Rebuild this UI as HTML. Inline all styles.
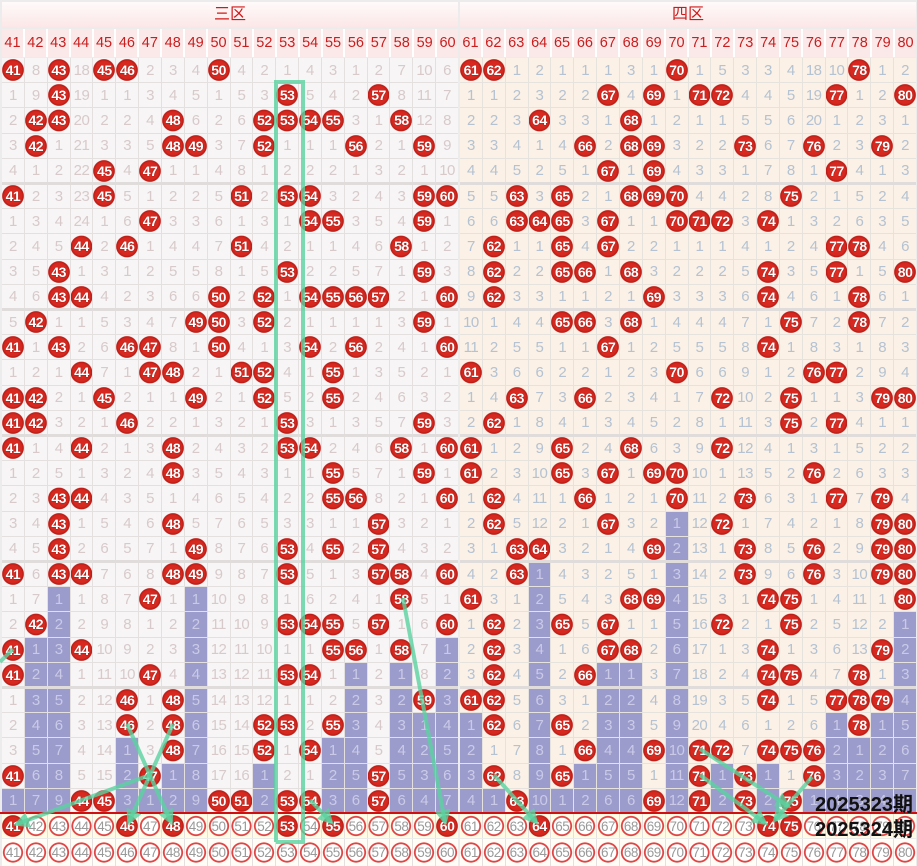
<!DOCTYPE html>
<html><head><meta charset="utf-8">
<style>
*{margin:0;padding:0;box-sizing:border-box}
body{width:917px;height:866px;overflow:hidden;background:#ececec;position:relative;font-family:"Liberation Sans","Noto Sans CJK SC",sans-serif}
.sec{position:absolute;top:0;width:456px;height:866px}
.h1{position:absolute;left:0;top:2px;width:456px;height:26px;background:linear-gradient(#fffafa,#fbe6e6);color:#d01818;font-size:16px;text-align:center;line-height:26px}
.h2{position:absolute;left:0;top:29px;width:456px;height:28px;display:grid;grid-template-columns:repeat(20,1fr);gap:2px;background:#fff}
.h2 span{background:#fbe9e9;color:#c81e1e;font-size:14.5px;display:flex;align-items:center;justify-content:center}
.g{position:absolute;left:0;width:456px;display:grid;grid-template-columns:repeat(20,1fr);gap:1px;background:#e4e0e0}
.d{top:58px;height:755px;grid-template-rows:repeat(30,1fr)}
.g>*{display:flex;align-items:center;justify-content:center;font-style:normal;text-decoration:none;font-weight:normal;font-size:15px;background:var(--bg);color:var(--fg);letter-spacing:-.5px}
.L{--bg:#f7f5f6;--fg:#d8caca}
.R{--bg:#fbf1e6;--fg:#b4c2d2}
.g>b{background:radial-gradient(circle,#de2c22 0,#d6281f 8.5px,#b81c16 10.5px,rgba(0,0,0,0) 11.2px),var(--bg);color:#fff;font-weight:bold;font-size:14px;text-shadow:0 0 1px #600}
.g>u{background:#9c9ccc;color:#cacae8}
.b1{top:814px;height:24px;--bg:#fffbe4;--fg:#aaa}
.b2{top:839px;height:27px;--bg:#fffdf6;--fg:#aaa}
.b1>o,.b2>o{background:radial-gradient(circle,#fff 0,#fff 8px,#e04444 8.6px,#e04444 9.8px,rgba(0,0,0,0) 10.4px),var(--bg);font-size:13.5px;color:#9a9a9a;display:flex;align-items:center;justify-content:center}
.sep{position:absolute;height:3px;background:#e0dcdc;width:456px;left:0}
</style></head><body>

<div class="sec L" style="left:2px">
<div class="h1">三区</div>
<div class="h2"><span>41</span><span>42</span><span>43</span><span>44</span><span>45</span><span>46</span><span>47</span><span>48</span><span>49</span><span>50</span><span>51</span><span>52</span><span>53</span><span>54</span><span>55</span><span>56</span><span>57</span><span>58</span><span>59</span><span>60</span></div>
<div class="g d">
<b>41</b><i>8</i><b>43</b><i>18</i><b>45</b><b>46</b><i>2</i><i>3</i><i>4</i><b>50</b><i>4</i><i>2</i><i>1</i><i>4</i><i>3</i><i>1</i><i>2</i><i>7</i><i>10</i><i>6</i>
<i>1</i><i>9</i><b>43</b><i>19</i><i>1</i><i>1</i><i>3</i><i>4</i><i>5</i><i>1</i><i>5</i><i>3</i><b>53</b><i>5</i><i>4</i><i>2</i><b>57</b><i>8</i><i>11</i><i>7</i>
<i>2</i><b>42</b><b>43</b><i>20</i><i>2</i><i>2</i><i>4</i><b>48</b><i>6</i><i>2</i><i>6</i><b>52</b><b>53</b><b>54</b><b>55</b><i>3</i><i>1</i><b>58</b><i>12</i><i>8</i>
<i>3</i><b>42</b><i>1</i><i>21</i><i>3</i><i>3</i><i>5</i><b>48</b><b>49</b><i>3</i><i>7</i><b>52</b><i>1</i><i>1</i><i>1</i><b>56</b><i>2</i><i>1</i><b>59</b><i>9</i>
<i>4</i><i>1</i><i>2</i><i>22</i><b>45</b><i>4</i><b>47</b><i>1</i><i>1</i><i>4</i><i>8</i><i>1</i><i>2</i><i>2</i><i>2</i><i>1</i><i>3</i><i>2</i><i>1</i><i>10</i>
<b>41</b><i>2</i><i>3</i><i>23</i><b>45</b><i>5</i><i>1</i><i>2</i><i>2</i><i>5</i><b>51</b><i>2</i><b>53</b><b>54</b><i>3</i><i>2</i><i>4</i><i>3</i><b>59</b><b>60</b>
<i>1</i><i>3</i><i>4</i><i>24</i><i>1</i><i>6</i><b>47</b><i>3</i><i>3</i><i>6</i><i>1</i><i>3</i><i>1</i><b>54</b><b>55</b><i>3</i><i>5</i><i>4</i><b>59</b><i>1</i>
<i>2</i><i>4</i><i>5</i><b>44</b><i>2</i><b>46</b><i>1</i><i>4</i><i>4</i><i>7</i><b>51</b><i>4</i><i>2</i><i>1</i><i>1</i><i>4</i><i>6</i><b>58</b><i>1</i><i>2</i>
<i>3</i><i>5</i><b>43</b><i>1</i><i>3</i><i>1</i><i>2</i><i>5</i><i>5</i><i>8</i><i>1</i><i>5</i><b>53</b><i>2</i><i>2</i><i>5</i><i>7</i><i>1</i><b>59</b><i>3</i>
<i>4</i><i>6</i><b>43</b><b>44</b><i>4</i><i>2</i><i>3</i><i>6</i><i>6</i><b>50</b><i>2</i><b>52</b><i>1</i><b>54</b><b>55</b><b>56</b><b>57</b><i>2</i><i>1</i><b>60</b>
<i>5</i><b>42</b><i>1</i><i>1</i><i>5</i><i>3</i><i>4</i><i>7</i><b>49</b><b>50</b><i>3</i><b>52</b><i>2</i><i>1</i><i>1</i><i>1</i><i>1</i><i>3</i><b>59</b><i>1</i>
<b>41</b><i>1</i><b>43</b><i>2</i><i>6</i><b>46</b><b>47</b><i>8</i><i>1</i><b>50</b><i>4</i><i>1</i><i>3</i><b>54</b><i>2</i><b>56</b><i>2</i><i>4</i><i>1</i><b>60</b>
<i>1</i><i>2</i><i>1</i><b>44</b><i>7</i><i>1</i><b>47</b><b>48</b><i>2</i><i>1</i><b>51</b><b>52</b><i>4</i><i>1</i><b>55</b><i>1</i><i>3</i><i>5</i><i>2</i><i>1</i>
<b>41</b><b>42</b><i>2</i><i>1</i><b>45</b><i>2</i><i>1</i><i>1</i><b>49</b><i>2</i><i>1</i><b>52</b><i>5</i><i>2</i><b>55</b><i>2</i><i>4</i><i>6</i><i>3</i><i>2</i>
<b>41</b><b>42</b><i>3</i><i>2</i><i>1</i><b>46</b><i>2</i><i>2</i><i>1</i><i>3</i><i>2</i><i>1</i><b>53</b><i>3</i><i>1</i><i>3</i><i>5</i><i>7</i><b>59</b><i>3</i>
<b>41</b><i>1</i><i>4</i><b>44</b><i>2</i><i>1</i><i>3</i><b>48</b><i>2</i><i>4</i><i>3</i><i>2</i><b>53</b><b>54</b><i>2</i><i>4</i><i>6</i><b>58</b><i>1</i><b>60</b>
<i>1</i><i>2</i><i>5</i><i>1</i><i>3</i><i>2</i><i>4</i><b>48</b><i>3</i><i>5</i><i>4</i><i>3</i><i>1</i><i>1</i><b>55</b><i>5</i><i>7</i><i>1</i><b>59</b><i>1</i>
<i>2</i><i>3</i><b>43</b><b>44</b><i>4</i><i>3</i><i>5</i><i>1</i><i>4</i><i>6</i><i>5</i><i>4</i><i>2</i><i>2</i><b>55</b><b>56</b><i>8</i><i>2</i><i>1</i><b>60</b>
<i>3</i><i>4</i><b>43</b><i>1</i><i>5</i><i>4</i><i>6</i><b>48</b><i>5</i><i>7</i><i>6</i><i>5</i><i>3</i><i>3</i><i>1</i><i>1</i><b>57</b><i>3</i><i>2</i><i>1</i>
<i>4</i><i>5</i><b>43</b><i>2</i><i>6</i><i>5</i><i>7</i><i>1</i><b>49</b><i>8</i><i>7</i><i>6</i><b>53</b><i>4</i><b>55</b><i>2</i><b>57</b><i>4</i><i>3</i><i>2</i>
<b>41</b><i>6</i><b>43</b><b>44</b><i>7</i><i>6</i><i>8</i><b>48</b><b>49</b><i>9</i><i>8</i><i>7</i><b>53</b><i>5</i><i>1</i><i>3</i><b>57</b><b>58</b><i>4</i><b>60</b>
<i>1</i><i>7</i><u>1</u><i>1</i><i>8</i><i>7</i><b>47</b><i>1</i><u>1</u><i>10</i><i>9</i><i>8</i><i>1</i><i>6</i><i>2</i><i>4</i><i>1</i><b>58</b><i>5</i><i>1</i>
<i>2</i><b>42</b><u>2</u><i>2</i><i>9</i><i>8</i><i>1</i><i>2</i><u>2</u><i>11</i><i>10</i><i>9</i><b>53</b><b>54</b><b>55</b><i>5</i><b>57</b><i>1</i><i>6</i><b>60</b>
<b>41</b><u>1</u><u>3</u><b>44</b><i>10</i><i>9</i><i>2</i><i>3</i><u>3</u><i>12</i><i>11</i><i>10</i><i>1</i><i>1</i><b>55</b><b>56</b><i>1</i><b>58</b><i>7</i><u>1</u>
<b>41</b><u>2</u><u>4</u><i>1</i><i>11</i><i>10</i><b>47</b><i>4</i><u>4</u><i>13</i><i>12</i><i>11</i><b>53</b><b>54</b><i>1</i><u>1</u><i>2</i><u>1</u><i>8</i><u>2</u>
<i>1</i><u>3</u><u>5</u><i>2</i><i>12</i><b>46</b><i>1</i><b>48</b><u>5</u><i>14</i><i>13</i><i>12</i><i>1</i><i>1</i><i>2</i><u>2</u><i>3</i><u>2</u><b>59</b><u>3</u>
<i>2</i><u>4</u><u>6</u><i>3</i><i>13</i><b>46</b><i>2</i><b>48</b><u>6</u><i>15</i><i>14</i><b>52</b><b>53</b><i>2</i><b>55</b><u>3</u><i>4</i><u>3</u><u>1</u><u>4</u>
<i>3</i><u>5</u><u>7</u><i>4</i><i>14</i><u>1</u><i>3</i><b>48</b><u>7</u><i>16</i><i>15</i><b>52</b><i>1</i><b>54</b><u>1</u><u>4</u><i>5</i><u>4</u><u>2</u><u>5</u>
<b>41</b><u>6</u><u>8</u><i>5</i><i>15</i><u>2</u><b>47</b><u>1</u><u>8</u><i>17</i><i>16</i><u>1</u><i>2</i><i>1</i><u>2</u><u>5</u><b>57</b><u>5</u><u>3</u><u>6</u>
<u>1</u><u>7</u><u>9</u><b>44</b><b>45</b><u>3</u><u>1</u><u>2</u><u>9</u><b>50</b><b>51</b><u>2</u><b>53</b><b>54</b><u>3</u><u>6</u><b>57</b><u>6</u><u>4</u><u>7</u>
</div>
<div class="sep" style="top:182px"></div><div class="sep" style="top:308px"></div><div class="sep" style="top:434px"></div><div class="sep" style="top:560px"></div><div class="sep" style="top:686px"></div>
<div class="g b1"><b>41</b><o>42</o><o>43</o><o>44</o><o>45</o><b>46</b><o>47</o><b>48</b><o>49</o><o>50</o><o>51</o><o>52</o><b>53</b><o>54</o><b>55</b><o>56</o><o>57</o><o>58</o><o>59</o><b>60</b></div>
<div class="g b2"><o>41</o><o>42</o><o>43</o><o>44</o><o>45</o><o>46</o><o>47</o><o>48</o><o>49</o><o>50</o><o>51</o><o>52</o><o>53</o><o>54</o><o>55</o><o>56</o><o>57</o><o>58</o><o>59</o><o>60</o></div>
</div>

<div class="sec R" style="left:460px">
<div class="h1">四区</div>
<div class="h2"><span>61</span><span>62</span><span>63</span><span>64</span><span>65</span><span>66</span><span>67</span><span>68</span><span>69</span><span>70</span><span>71</span><span>72</span><span>73</span><span>74</span><span>75</span><span>76</span><span>77</span><span>78</span><span>79</span><span>80</span></div>
<div class="g d" style="background:#e6e2de">
<b>61</b><b>62</b><i>1</i><i>2</i><i>1</i><i>1</i><i>1</i><i>3</i><i>1</i><b>70</b><i>1</i><i>5</i><i>3</i><i>3</i><i>4</i><i>18</i><i>10</i><b>78</b><i>1</i><i>2</i>
<i>1</i><i>1</i><i>2</i><i>3</i><i>2</i><i>2</i><b>67</b><i>4</i><b>69</b><i>1</i><b>71</b><b>72</b><i>4</i><i>4</i><i>5</i><i>19</i><b>77</b><i>1</i><i>2</i><b>80</b>
<i>2</i><i>2</i><i>3</i><b>64</b><i>3</i><i>3</i><i>1</i><b>68</b><i>1</i><i>2</i><i>1</i><i>1</i><i>5</i><i>5</i><i>6</i><i>20</i><i>1</i><i>2</i><i>3</i><i>1</i>
<i>3</i><i>3</i><i>4</i><i>1</i><i>4</i><b>66</b><i>2</i><b>68</b><b>69</b><i>3</i><i>2</i><i>2</i><b>73</b><i>6</i><i>7</i><b>76</b><i>2</i><i>3</i><b>79</b><i>2</i>
<i>4</i><i>4</i><i>5</i><i>2</i><i>5</i><i>1</i><b>67</b><i>1</i><b>69</b><i>4</i><i>3</i><i>3</i><i>1</i><i>7</i><i>8</i><i>1</i><b>77</b><i>4</i><i>1</i><i>3</i>
<i>5</i><i>5</i><b>63</b><i>3</i><b>65</b><i>2</i><i>1</i><b>68</b><b>69</b><b>70</b><i>4</i><i>4</i><i>2</i><i>8</i><b>75</b><i>2</i><i>1</i><i>5</i><i>2</i><i>4</i>
<i>6</i><i>6</i><b>63</b><b>64</b><b>65</b><i>3</i><b>67</b><i>1</i><i>1</i><b>70</b><b>71</b><b>72</b><i>3</i><b>74</b><i>1</i><i>3</i><i>2</i><i>6</i><i>3</i><i>5</i>
<i>7</i><b>62</b><i>1</i><i>1</i><b>65</b><i>4</i><b>67</b><i>2</i><i>2</i><i>1</i><i>1</i><i>1</i><i>4</i><i>1</i><i>2</i><i>4</i><b>77</b><b>78</b><i>4</i><i>6</i>
<i>8</i><b>62</b><i>2</i><i>2</i><b>65</b><b>66</b><i>1</i><b>68</b><i>3</i><i>2</i><i>2</i><i>2</i><i>5</i><b>74</b><i>3</i><i>5</i><b>77</b><i>1</i><i>5</i><b>80</b>
<i>9</i><b>62</b><i>3</i><i>3</i><i>1</i><i>1</i><i>2</i><i>1</i><b>69</b><i>3</i><i>3</i><i>3</i><i>6</i><b>74</b><i>4</i><i>6</i><i>1</i><b>78</b><i>6</i><i>1</i>
<i>10</i><i>1</i><i>4</i><i>4</i><b>65</b><b>66</b><i>3</i><b>68</b><i>1</i><i>4</i><i>4</i><i>4</i><i>7</i><i>1</i><b>75</b><i>7</i><i>2</i><b>78</b><i>7</i><i>2</i>
<i>11</i><i>2</i><i>5</i><i>5</i><i>1</i><i>1</i><b>67</b><i>1</i><i>2</i><i>5</i><i>5</i><i>5</i><i>8</i><b>74</b><i>1</i><i>8</i><i>3</i><i>1</i><i>8</i><i>3</i>
<b>61</b><i>3</i><i>6</i><i>6</i><i>2</i><i>2</i><i>1</i><i>2</i><i>3</i><b>70</b><i>6</i><i>6</i><i>9</i><i>1</i><i>2</i><b>76</b><b>77</b><i>2</i><i>9</i><i>4</i>
<i>1</i><i>4</i><b>63</b><i>7</i><i>3</i><b>66</b><i>2</i><i>3</i><i>4</i><i>1</i><i>7</i><b>72</b><i>10</i><i>2</i><b>75</b><i>1</i><i>1</i><i>3</i><b>79</b><b>80</b>
<i>2</i><b>62</b><i>1</i><i>8</i><i>4</i><i>1</i><i>3</i><i>4</i><i>5</i><i>2</i><i>8</i><i>1</i><i>11</i><i>3</i><b>75</b><i>2</i><b>77</b><i>4</i><i>1</i><i>1</i>
<b>61</b><i>1</i><i>2</i><i>9</i><b>65</b><i>2</i><i>4</i><b>68</b><i>6</i><i>3</i><i>9</i><b>72</b><i>12</i><i>4</i><i>1</i><i>3</i><i>1</i><i>5</i><i>2</i><i>2</i>
<b>61</b><i>2</i><i>3</i><i>10</i><b>65</b><i>3</i><b>67</b><i>1</i><b>69</b><b>70</b><i>10</i><i>1</i><i>13</i><i>5</i><i>2</i><b>76</b><i>2</i><i>6</i><i>3</i><i>3</i>
<i>1</i><b>62</b><i>4</i><i>11</i><i>1</i><b>66</b><i>1</i><i>2</i><i>1</i><b>70</b><i>11</i><i>2</i><b>73</b><i>6</i><i>3</i><i>1</i><b>77</b><i>7</i><b>79</b><i>4</i>
<i>2</i><b>62</b><i>5</i><i>12</i><i>2</i><i>1</i><b>67</b><i>3</i><i>2</i><u>1</u><i>12</i><b>72</b><i>1</i><i>7</i><i>4</i><i>2</i><i>1</i><i>8</i><b>79</b><b>80</b>
<i>3</i><i>1</i><b>63</b><b>64</b><i>3</i><i>2</i><i>1</i><i>4</i><b>69</b><u>2</u><i>13</i><i>1</i><b>73</b><i>8</i><i>5</i><b>76</b><i>2</i><i>9</i><b>79</b><b>80</b>
<i>4</i><i>2</i><b>63</b><u>1</u><i>4</i><i>3</i><i>2</i><i>5</i><i>1</i><u>3</u><i>14</i><i>2</i><b>73</b><i>9</i><i>6</i><b>76</b><i>3</i><i>10</i><b>79</b><b>80</b>
<b>61</b><i>3</i><i>1</i><u>2</u><i>5</i><i>4</i><i>3</i><b>68</b><b>69</b><u>4</u><i>15</i><i>3</i><i>1</i><b>74</b><b>75</b><i>1</i><i>4</i><i>11</i><i>1</i><b>80</b>
<i>1</i><b>62</b><i>2</i><u>3</u><b>65</b><i>5</i><b>67</b><i>1</i><i>1</i><u>5</u><i>16</i><b>72</b><i>2</i><i>1</i><b>75</b><i>2</i><i>5</i><i>12</i><i>2</i><u>1</u>
<i>2</i><b>62</b><i>3</i><u>4</u><i>1</i><i>6</i><b>67</b><b>68</b><i>2</i><u>6</u><i>17</i><i>1</i><i>3</i><b>74</b><i>1</i><i>3</i><i>6</i><i>13</i><b>79</b><u>2</u>
<i>3</i><b>62</b><i>4</i><u>5</u><i>2</i><b>66</b><u>1</u><u>1</u><i>3</i><u>7</u><i>18</i><i>2</i><i>4</i><b>74</b><b>75</b><i>4</i><i>7</i><b>78</b><i>1</i><u>3</u>
<b>61</b><b>62</b><i>5</i><u>6</u><i>3</i><i>1</i><u>2</u><u>2</u><i>4</i><u>8</u><i>19</i><i>3</i><i>5</i><b>74</b><i>1</i><i>5</i><b>77</b><b>78</b><b>79</b><u>4</u>
<u>1</u><b>62</b><i>6</i><u>7</u><b>65</b><i>2</i><u>3</u><u>3</u><i>5</i><u>9</u><i>20</i><i>4</i><i>6</i><i>1</i><i>2</i><i>6</i><u>1</u><b>78</b><u>1</u><u>5</u>
<u>2</u><i>1</i><i>7</i><u>8</u><i>1</i><b>66</b><u>4</u><u>4</u><b>69</b><u>10</u><b>71</b><b>72</b><i>7</i><b>74</b><b>75</b><b>76</b><u>2</u><u>1</u><u>2</u><u>6</u>
<u>3</u><b>62</b><i>8</i><u>9</u><b>65</b><u>1</u><u>5</u><u>5</u><i>1</i><u>11</u><b>71</b><u>1</u><b>73</b><u>1</u><i>1</i><b>76</b><u>3</u><u>2</u><u>3</u><u>7</u>
<u>4</u><u>1</u><b>63</b><u>10</u><u>1</u><u>2</u><u>6</u><u>6</u><b>69</b><u>12</u><b>71</b><u>2</u><b>73</b><u>2</u><b>75</b><u>1</u><u>4</u><u>3</u><u>4</u><u>8</u>
</div>
<div class="sep" style="top:182px"></div><div class="sep" style="top:308px"></div><div class="sep" style="top:434px"></div><div class="sep" style="top:560px"></div><div class="sep" style="top:686px"></div>
<div class="g b1"><o>61</o><o>62</o><o>63</o><b>64</b><o>65</o><o>66</o><o>67</o><o>68</o><o>69</o><o>70</o><o>71</o><o>72</o><o>73</o><b>74</b><b>75</b><o>76</o><o>77</o><o>78</o><o>79</o><o>80</o></div>
<div class="g b2"><o>61</o><o>62</o><o>63</o><o>64</o><o>65</o><o>66</o><o>67</o><o>68</o><o>69</o><o>70</o><o>71</o><o>72</o><o>73</o><o>74</o><o>75</o><o>76</o><o>77</o><o>78</o><o>79</o><o>80</o></div>
</div>

<div style="position:absolute;left:0;top:812px;width:917px;height:2px;background:#d01010"></div>

<svg style="position:absolute;left:0;top:0" width="917" height="866">
<defs><marker id="a" markerWidth="4" markerHeight="4" refX="3" refY="2" orient="auto"><path d="M0,0L4,2L0,4z" fill="rgba(90,210,160,0.8)"/></marker></defs>
<g fill="none" stroke="rgba(90,210,160,0.8)" stroke-width="4">
<polyline points="276,842 276,82 303,82 303,842 276,842"/>
<line x1="403" y1="598" x2="445" y2="822" marker-end="url(#a)"/>
<line x1="127" y1="724" x2="171" y2="822" marker-end="url(#a)"/>
<line x1="173" y1="724" x2="129" y2="822" marker-end="url(#a)"/>
<line x1="150" y1="775" x2="17" y2="824" marker-end="url(#a)"/>
<line x1="0" y1="662" x2="13" y2="649"/>
<line x1="310" y1="800" x2="331" y2="822" marker-end="url(#a)"/>
<line x1="494" y1="775" x2="536" y2="822" marker-end="url(#a)"/>
<line x1="700" y1="749" x2="788" y2="806" marker-end="url(#a)"/>
<line x1="700" y1="775" x2="765" y2="823" marker-end="url(#a)"/>
<line x1="812" y1="777" x2="775" y2="820" marker-end="url(#a)"/>
</g>
<g font-family="Liberation Sans,Noto Sans CJK SC,sans-serif" font-weight="bold" font-size="20" fill="#111" text-anchor="end">
<text x="913" y="811">2025323期</text>
<text x="913" y="836">2025324期</text>
</g>
</svg>
</body></html>
